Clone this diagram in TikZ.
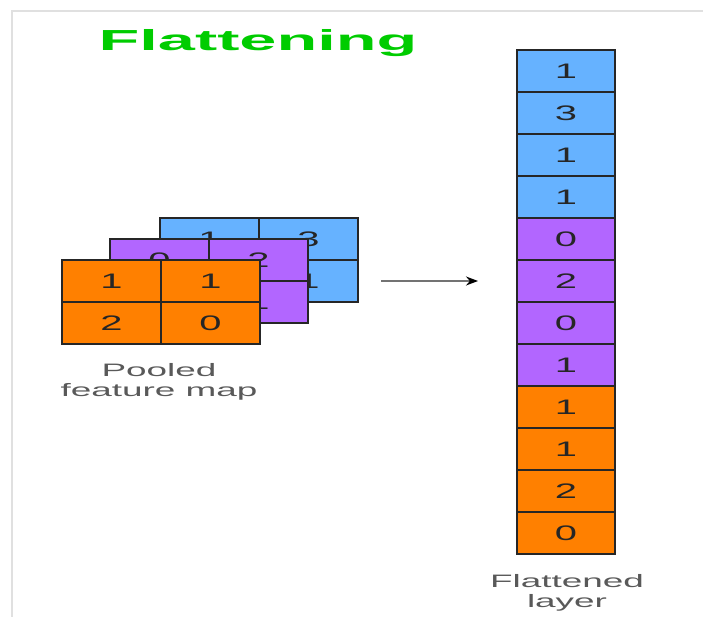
\documentclass[tikz,border=0pt]{standalone}
\usepackage{fontspec}
\setmainfont{Liberation Sans}
\newfontfamily\cellfont[FakeStretch=1.9]{Liberation Sans}
\newfontfamily\capfont[FakeStretch=2.05]{Liberation Sans}
\newfontfamily\titlefont[FakeStretch=2.3]{Liberation Sans}
\usetikzlibrary{arrows.meta,positioning}
\definecolor{mapblue}{RGB}{102,178,255}
\definecolor{mappurple}{RGB}{178,102,255}
\definecolor{maporange}{RGB}{255,128,0}
\definecolor{titlegreen}{RGB}{0,204,0}
\definecolor{framegray}{RGB}{224,224,224}

\begin{document}
\begin{tikzpicture}[
      x=1pt, y=-1pt,
      cell/.style={draw=black!85, line width=1.2pt, outer sep=0pt, inner sep=0pt,
                   minimum width=99pt, minimum height=42pt, anchor=north west,
                   font=\cellfont\fontsize{21}{24}\selectfont, text=black!85},
      fcell/.style={cell, minimum width=98pt},
      capt/.style={align=center, text=black!65,
                  font=\capfont\fontsize{18}{20}\selectfont},
      arr/.style={-{Stealth[length=12pt, width=9pt, color=black]},
                  line width=1.5pt, draw=black!55}
    ]
    \useasboundingbox (0,0) rectangle (703,617);

    % frame
    \draw[framegray, line width=2pt] (12,617) -- (12,11) -- (703,11);

    % title
    \node[text=titlegreen, font=\titlefont\bfseries\fontsize{29}{30}\selectfont]
      (title) at (258,43) {Flattening};

    % pooled feature maps, back to front
    \foreach \nm/\x/\y/\col/\a/\b/\c/\d in {b/160/218/mapblue/1/3/1/1,
        p/110/239/mappurple/0/2/0/1, o/62/260/maporange/1/1/2/0}{
      \node[cell, fill=\col] (\nm11) at (\x,\y) {\a};
      \node[cell, fill=\col, right=0pt of \nm11] (\nm12) {\b};
      \node[cell, fill=\col, below=0pt of \nm11] (\nm21) {\c};
      \node[cell, fill=\col, right=0pt of \nm21] (\nm22) {\d};
    }
    \node[capt] (pooled) at (159,382) {Pooled\\feature map};

    % arrow
    \coordinate[right=73pt of p12.south east] (arrS);
    \coordinate (arrE) at (478,281);
    \draw[arr] (arrS) -- (arrE);

    % flattened layer
    \node[fcell, fill=mapblue] (f1) at (517,50) {1};
    \foreach \v/\col [count=\i from 2, evaluate=\i as \j using int(\i-1)] in
        {3/mapblue, 1/mapblue, 1/mapblue, 0/mappurple, 2/mappurple, 0/mappurple,
         1/mappurple, 1/maporange, 1/maporange, 2/maporange, 0/maporange}{
      \node[fcell, fill=\col, below=0pt of f\j] (f\i) {\v};
    }
    \node[capt] (flat) at (567,593) {Flattened\\layer};
  \end{tikzpicture}
\end{document}
